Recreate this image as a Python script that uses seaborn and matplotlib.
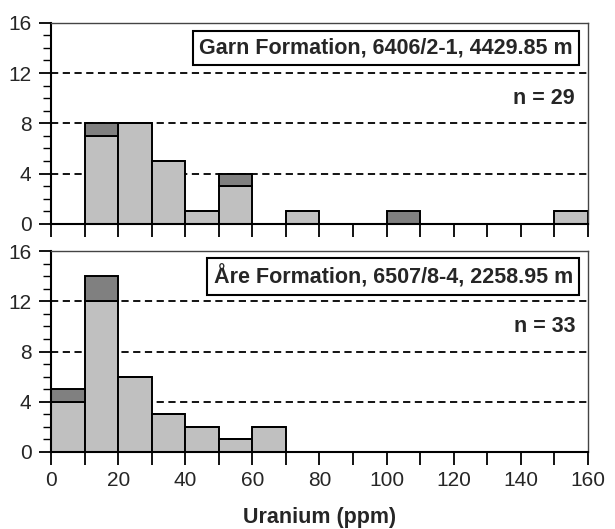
import numpy as np
import pandas as pd
import matplotlib
matplotlib.use("Agg")
import matplotlib.pyplot as plt
import seaborn as sns
from matplotlib.ticker import MultipleLocator

# histogram bins (ppm), width 10
bin_left = [0, 10, 20, 30, 40, 50, 60, 70, 80, 90, 100, 110, 120, 130, 140, 150]
bin_width = 10

# Garn Formation counts per bin
garn_light = [0, 7, 8, 5, 1, 3, 0, 1, 0, 0, 0, 0, 0, 0, 0, 1]
garn_dark = [0, 1, 0, 0, 0, 1, 0, 0, 0, 0, 1, 0, 0, 0, 0, 0]

# Åre Formation counts per bin
are_light = [4, 12, 6, 3, 2, 1, 2, 0, 0, 0, 0, 0, 0, 0, 0, 0]
are_dark = [1, 2, 0, 0, 0, 0, 0, 0, 0, 0, 0, 0, 0, 0, 0, 0]

panel_titles = ["Garn Formation, 6406/2-1, 4429.85 m",
                "Åre Formation, 6507/8-4, 2258.95 m"]
panel_n = ["n = 29", "n = 33"]

sns.set_style("ticks")
plt.rcParams["font.family"] = ["Liberation Sans", "DejaVu Sans"]

fig = plt.figure(figsize=(6.15, 5.29), dpi=100)
ax_top = fig.add_axes([0.083, 0.577, 0.873, 0.380])
ax_bot = fig.add_axes([0.083, 0.146, 0.873, 0.379])

edges = bin_left + [bin_left[-1] + bin_width]
mids = [b + bin_width / 2 for b in bin_left]

panels = [(ax_top, garn_light, garn_dark), (ax_bot, are_light, are_dark)]
for i, (ax, light, dark) in enumerate(panels):
    df = pd.DataFrame({
        "uranium": mids + mids,
        "count": light + dark,
        "kind": ["light"] * len(light) + ["dark"] * len(dark),
    })
    for y in [4, 8, 12]:
        ax.axhline(y, color="black", lw=1.3, ls=(0, (4, 2.5)), zorder=1)
    sns.histplot(data=df, x="uranium", weights="count", hue="kind",
                 hue_order=["dark", "light"], multiple="stack", bins=edges,
                 palette={"light": "#c0c0c0", "dark": "#808080"},
                 edgecolor="black", linewidth=1.4, alpha=1, legend=False,
                 ax=ax, zorder=2)

    ax.set_xlim(0, 160)
    ax.set_ylim(0, 16)
    ax.set_yticks([0, 4, 8, 12, 16])
    ax.yaxis.set_minor_locator(MultipleLocator(1))
    ax.xaxis.set_major_locator(MultipleLocator(20))
    ax.xaxis.set_minor_locator(MultipleLocator(10))
    ax.tick_params(which="major", length=9, width=1.3, color="black",
                   labelsize=15, pad=5)
    ax.tick_params(axis="y", which="minor", length=6, width=1, color="black")
    ax.tick_params(axis="x", which="minor", length=9, width=1.3, color="black")
    ax.set_ylabel("")
    for s in ["left", "bottom"]:
        ax.spines[s].set_linewidth(1.5)
        ax.spines[s].set_color("black")
    for s in ["top", "right"]:
        ax.spines[s].set_linewidth(1)
        ax.spines[s].set_color("#444444")

    ax.text(0.972, 0.875, panel_titles[i], transform=ax.transAxes,
            ha="right", va="center", fontsize=15.5, fontweight="bold",
            bbox=dict(boxstyle="square,pad=0.3", fc="white", ec="black", lw=1.5),
            zorder=5)
    ax.text(0.976, 0.625, panel_n[i], transform=ax.transAxes,
            ha="right", va="center", fontsize=15.5, fontweight="bold", zorder=5)

ax_top.set_xlabel("")
ax_top.tick_params(axis="x", labelbottom=False)
ax_bot.set_xlabel("Uranium (ppm)", fontsize=15.5, fontweight="bold", labelpad=12)

fig.savefig("out.png", dpi=100)
